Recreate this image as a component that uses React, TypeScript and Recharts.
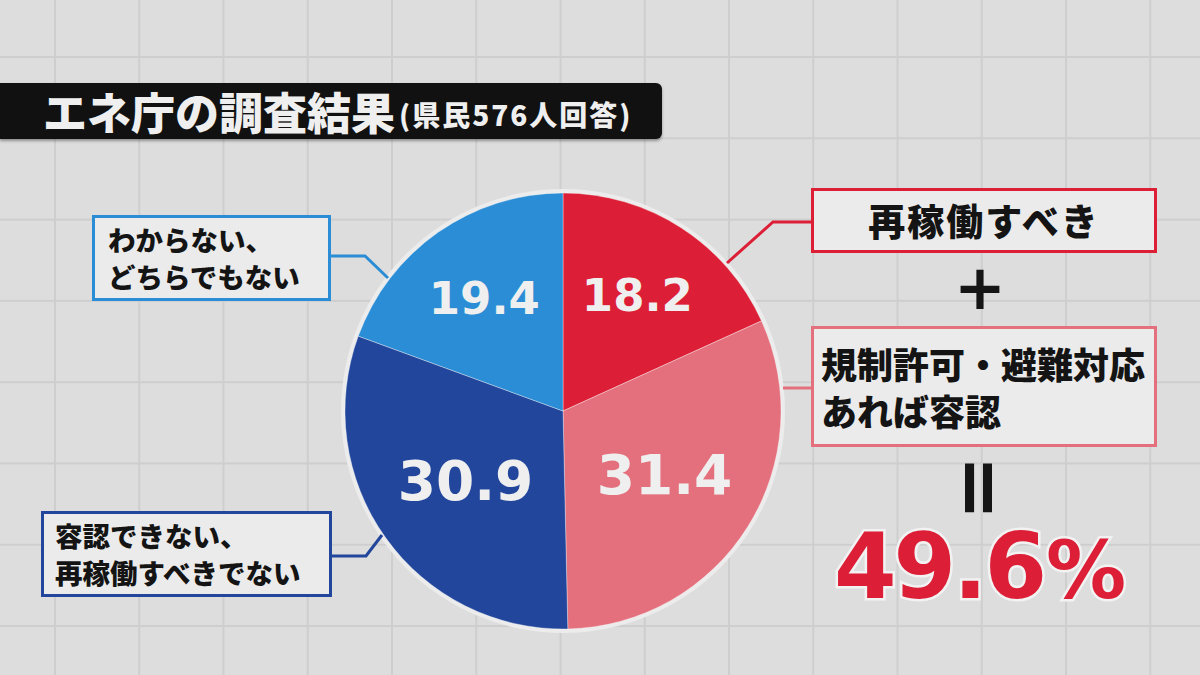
import React from 'react';
import { PieChart, Pie, Cell } from 'recharts';

// survey answers, clockwise from 12 o'clock
const categories = ['再稼働すべき', '規制許可・避難対応あれば容認', '容認できない、再稼働すべきでない', 'わからない、どちらでもない'];
const values = [18.2, 31.4, 30.9, 19.4];
const titleMain = 'エネ庁の調査結果';
const titleSub = '(県民576人回答)';

const sliceColors = ['#dc1f36', '#e4707d', '#21469c', '#2b8dd5'];
const JP = '"Noto Sans CJK JP", "Noto Sans", sans-serif';
const NUM = '"DejaVu Sans", sans-serif';

const chartData = categories.map((name, i) => ({ name, value: values[i] }));
const approvePct = (values[0] + values[1]).toFixed(1);

const RAD = Math.PI / 180;
const renderValue = (props: any) => {
  const { cx, cy, midAngle, outerRadius, value } = props;
  const big = value > 25;
  const r = outerRadius * (big ? 0.55 : 0.63);
  const x = cx + r * Math.cos(-midAngle * RAD);
  const y = cy + r * Math.sin(-midAngle * RAD);
  return (
    <text x={x} y={y} fill="#efefef" textAnchor="middle" dominantBaseline="central"
      fontFamily={NUM} fontWeight={700} fontSize={big ? 55 : 45}>
      {value.toFixed(1)}
    </text>
  );
};

const box = (left: number, top: number, width: number, height: number, color: string): React.CSSProperties => ({
  position: 'absolute', left, top, width, height, boxSizing: 'border-box',
  border: `3px solid ${color}`, background: '#ebebeb', fontFamily: JP, fontWeight: 900, color: '#141414',
});

export default function App() {
  return (
    <div style={{
      position: 'absolute', left: 0, top: 0, width: 1200, height: 675, overflow: 'hidden',
      backgroundColor: '#dddddd',
      backgroundImage: 'linear-gradient(to right, #cecece 2px, transparent 2px), linear-gradient(to bottom, #cecece 2px, transparent 2px)',
      backgroundSize: '84.25px 81.3px',
      backgroundPosition: '54px 56px',
    }}>
      {/* title bar */}
      <div style={{
        position: 'absolute', left: 0, top: 83, width: 662, height: 56, background: '#111',
        borderRadius: '0 6px 6px 0', boxShadow: '0 2px 3px rgba(0,0,0,0.35)',
        display: 'flex', alignItems: 'center', fontFamily: JP, fontWeight: 900, color: '#efefef',
      }}>
        <span style={{ marginLeft: 43, fontSize: 44, lineHeight: 1 }}>{titleMain}</span>
        <span style={{ fontSize: 28, lineHeight: 1, marginTop: 6, marginLeft: 4, letterSpacing: 2 }}>{titleSub}</span>
      </div>

      {/* pie rim */}
      <div style={{
        position: 'absolute', left: 563 - 222, top: 411 - 222, width: 444, height: 444,
        borderRadius: '50%', background: '#ececec',
      }} />

      <div style={{ position: 'absolute', left: 0, top: 0 }}>
        <PieChart width={1200} height={675} margin={{ top: 0, right: 0, bottom: 0, left: 0 }}>
          <Pie data={chartData} dataKey="value" nameKey="name" cx={563} cy={411}
            outerRadius={218} startAngle={90} endAngle={-270}
            stroke="rgba(255,255,255,0.35)" strokeWidth={1}
            label={renderValue} labelLine={false} isAnimationActive={false}>
            {chartData.map((d, i) => <Cell key={d.name} fill={sliceColors[i]} />)}
          </Pie>
        </PieChart>
      </div>

      {/* leader lines */}
      <svg width={1200} height={675} style={{ position: 'absolute', left: 0, top: 0 }}>
        <polyline points="727,263 773,222 811,222" fill="none" stroke={sliceColors[0]} strokeWidth={3} />
        <polyline points="783,388 811,388" fill="none" stroke={sliceColors[1]} strokeWidth={3} />
        <polyline points="332,556 366,556 382,535" fill="none" stroke={sliceColors[2]} strokeWidth={3} />
        <polyline points="331,256 365,256 388,278" fill="none" stroke={sliceColors[3]} strokeWidth={3} />
      </svg>

      {/* right column */}
      <div style={{ ...box(811, 188, 346, 65, sliceColors[0]), display: 'flex', alignItems: 'center', justifyContent: 'center' }}>
        <span style={{ fontSize: 37, letterSpacing: 2, lineHeight: 1 }}>{categories[0]}</span>
      </div>
      <div style={{
        position: 'absolute', left: 940, top: 252, width: 80, textAlign: 'center',
        fontFamily: NUM, fontWeight: 700, fontSize: 62, lineHeight: '72px', color: '#151515',
      }}>+</div>
      <div style={{ ...box(811, 326, 346, 121, sliceColors[1]), display: 'flex', flexDirection: 'column', justifyContent: 'center', paddingLeft: 7 }}>
        <div style={{ fontSize: 36, lineHeight: '47px' }}>規制許可・避難対応</div>
        <div style={{ fontSize: 36, lineHeight: '47px' }}>あれば容認</div>
      </div>
      <div style={{
        position: 'absolute', left: 941, top: 452, width: 80, height: 72, textAlign: 'center',
        fontFamily: NUM, fontWeight: 700, fontSize: 78, lineHeight: '72px', color: '#151515',
        transform: 'rotate(90deg)',
      }}>=</div>
      <div style={{
        position: 'absolute', left: 834, top: 512, fontFamily: NUM, fontWeight: 700, color: '#dc1f36',
        fontSize: 90, lineHeight: '110px', letterSpacing: -3, whiteSpace: 'nowrap',
        WebkitTextStroke: '5px #f2f2f2', paintOrder: 'stroke fill',
      }}>
        {approvePct}<span style={{ fontSize: 80, letterSpacing: 0, marginLeft: 2 }}>%</span>
      </div>

      {/* left column */}
      <div style={{ ...box(92, 215, 239, 86, sliceColors[3]), display: 'flex', flexDirection: 'column', justifyContent: 'center', paddingLeft: 13 }}>
        <div style={{ fontSize: 27.5, lineHeight: '37px' }}>わからない、</div>
        <div style={{ fontSize: 27.5, lineHeight: '37px' }}>どちらでもない</div>
      </div>
      <div style={{ ...box(41, 511, 291, 86, sliceColors[2]), display: 'flex', flexDirection: 'column', justifyContent: 'center', paddingLeft: 11 }}>
        <div style={{ fontSize: 27.5, lineHeight: '37px' }}>容認できない、</div>
        <div style={{ fontSize: 27.5, lineHeight: '37px' }}>再稼働すべきでない</div>
      </div>
    </div>
  );
}
